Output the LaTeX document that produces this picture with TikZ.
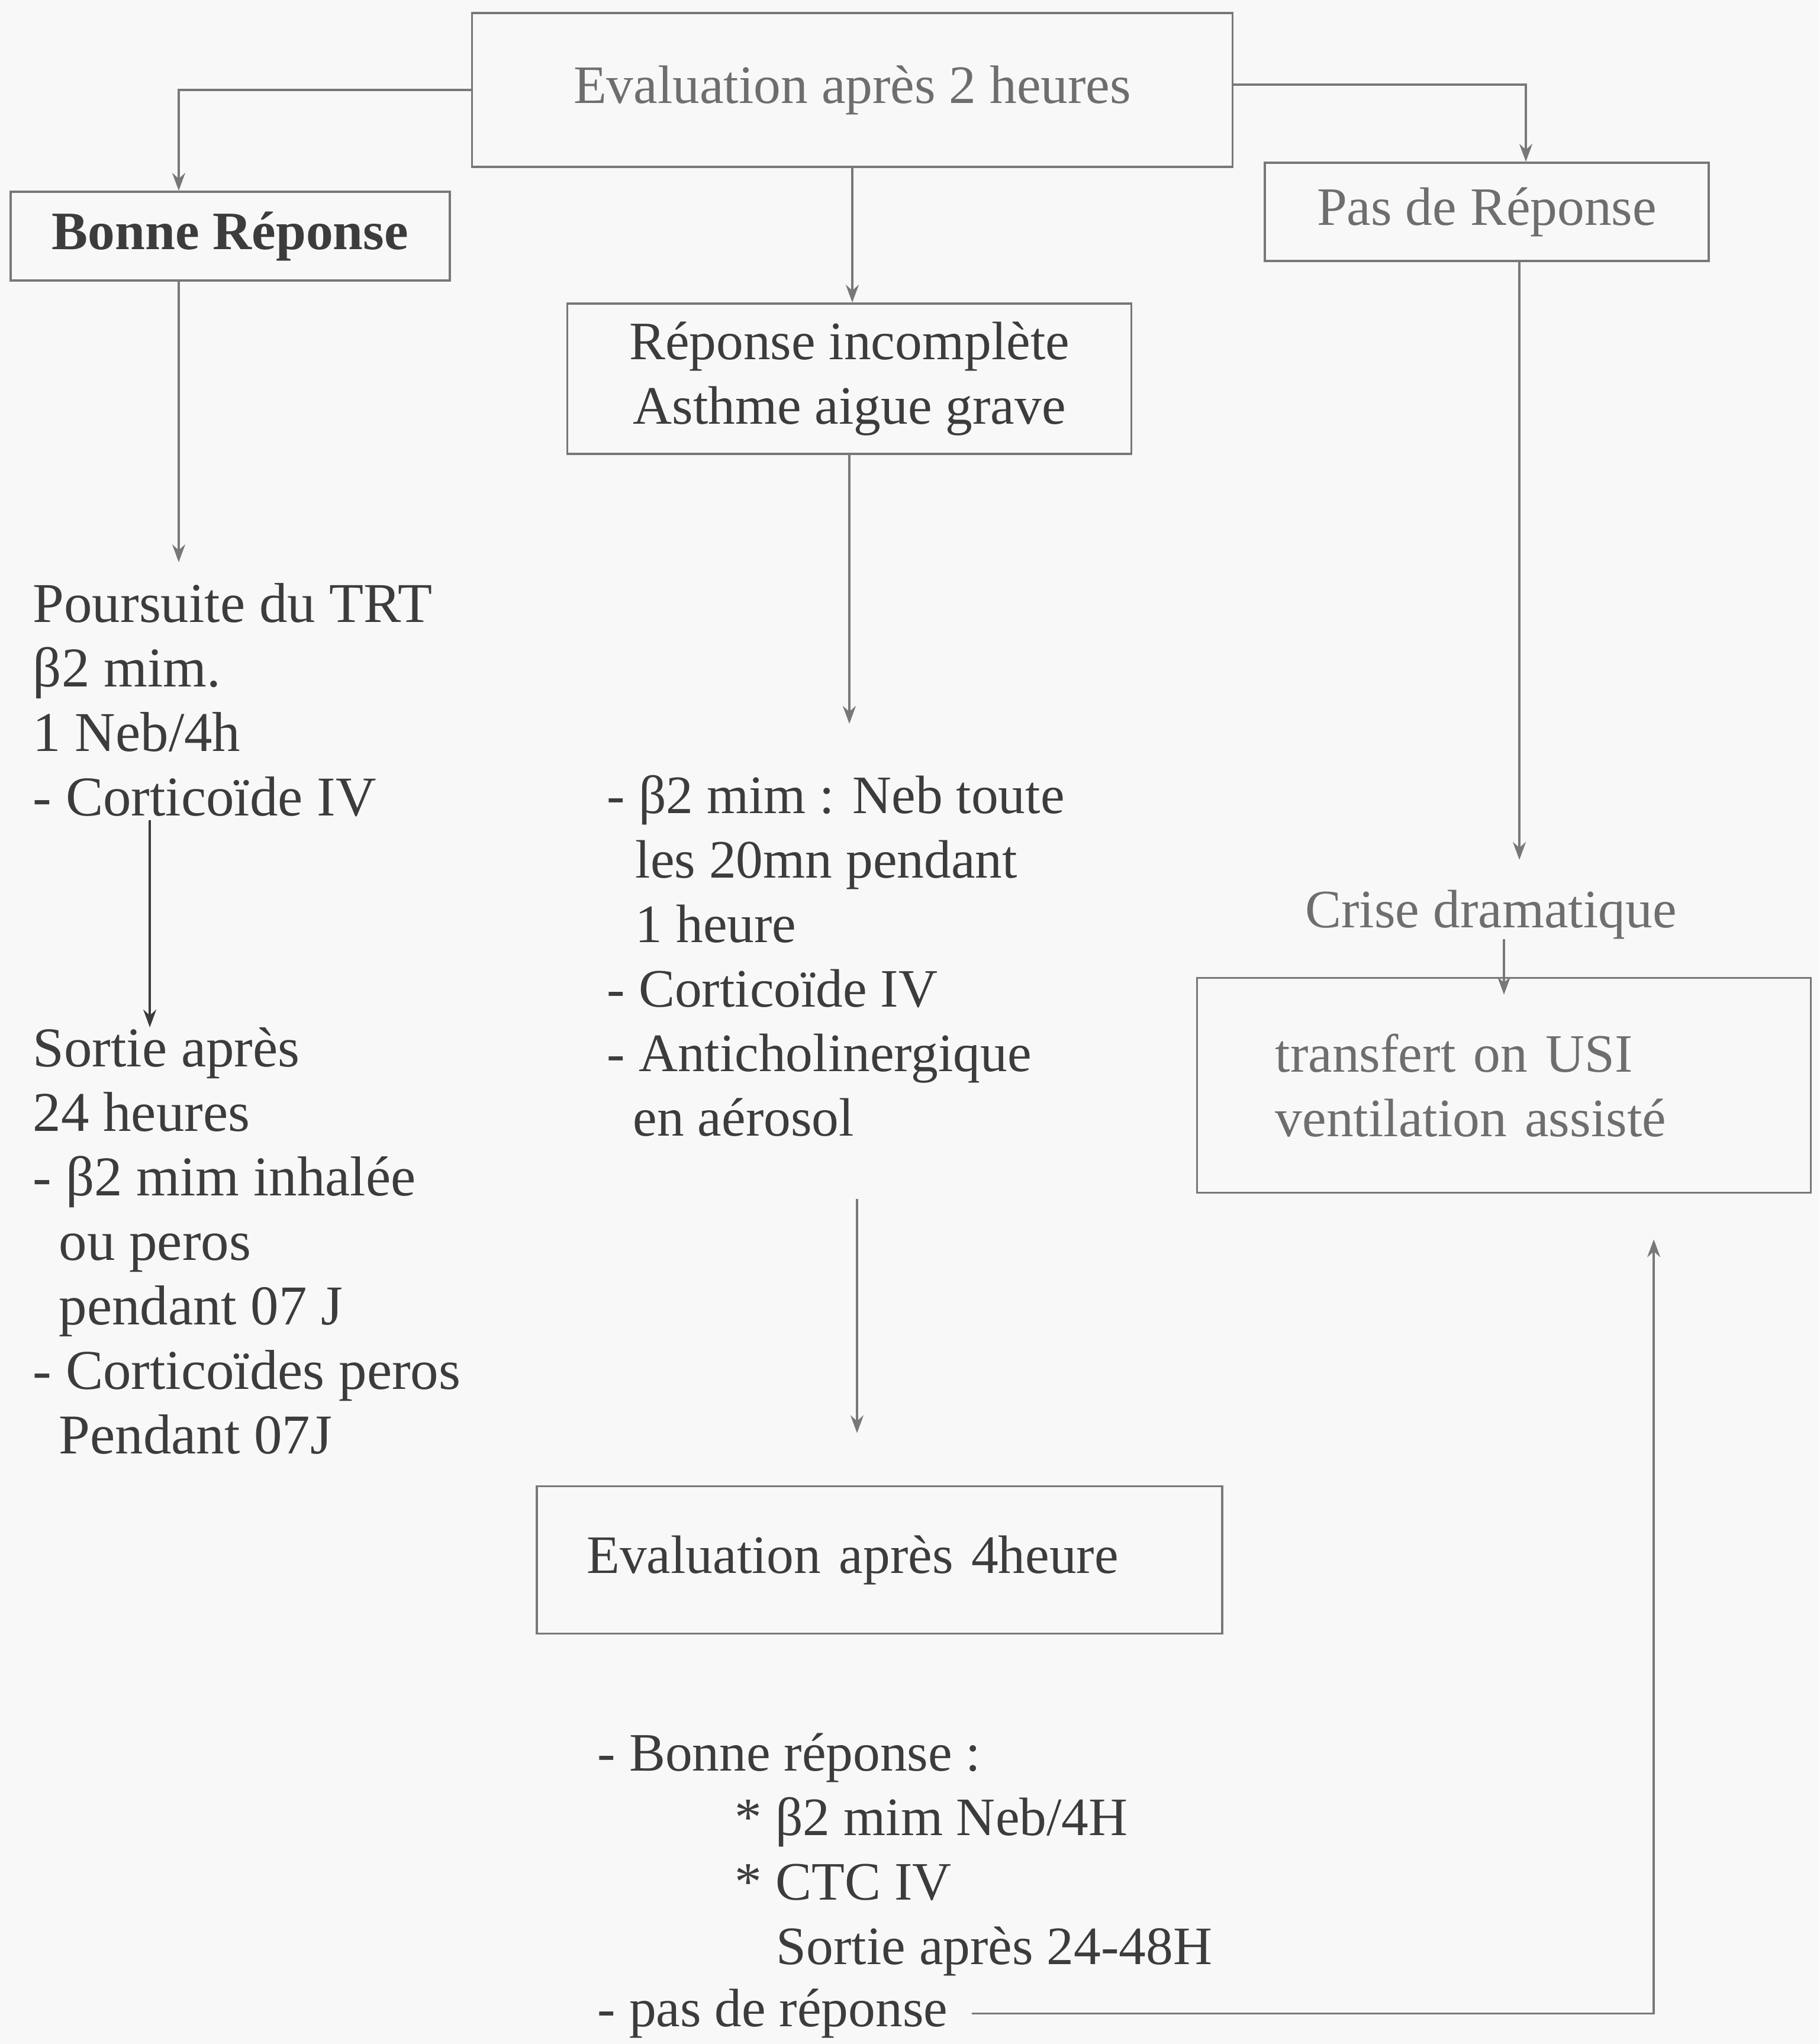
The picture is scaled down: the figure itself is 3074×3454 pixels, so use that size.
\documentclass[tikz,border=0pt]{standalone}
\usepackage{fontspec}
\setmainfont{Liberation Serif}
\usetikzlibrary{arrows.meta,calc}
\definecolor{bg}{RGB}{248,248,248}
\definecolor{linegray}{RGB}{120,120,120}
\definecolor{txt}{RGB}{60,60,60}
\definecolor{txtlight}{RGB}{110,110,110}
\begin{document}
\begin{tikzpicture}[x=0.01cm,y=-0.01cm,
  every node/.style={font=\fontsize{26}{31}\selectfont},
  box/.style={draw=linegray, line width=1pt, inner sep=0pt, text=txt},
  txtblock/.style={align=left, inner sep=0pt, text=txt, anchor=north west},
  arr/.style={draw=linegray, line width=1pt, -{Stealth[length=0.3cm,width=0.22cm]}},
  conn/.style={draw=linegray, line width=1pt}
]
\fill[bg] (0,0) rectangle (3074,3454);
\useasboundingbox (0,0) rectangle (3074,3454);

% boxes
\node[box, text=txtlight, minimum width=12.84cm, minimum height=2.60cm] (top) at (1440,152) {Evaluation après 2 heures};
\node[box, font=\fontsize{26}{31}\selectfont\bfseries, minimum width=7.42cm, minimum height=1.50cm] (bonne) at (389,399) {Bonne Réponse};
\node[box, text=txtlight, minimum width=7.50cm, minimum height=1.66cm] (pas) at (2512,358) {Pas de Réponse};
\node[box, align=center, minimum width=9.52cm, minimum height=2.54cm] (incomp) at (1435,640) {Réponse incomplète\\Asthme aigue grave};
\node[box, align=left, inner xsep=0.84cm, text width=9.89cm, minimum height=2.49cm] (eval4) at (1486,2636) {Evaluation après 4heure};
\node[box, text=txtlight, align=left, inner xsep=1.32cm, text width=7.72cm, minimum height=3.63cm] (usi) at (2541,1834) {transfert on USI\\ventilation assisté};

% text blocks
\node[txtblock, font=\fontsize{27}{31}\selectfont] (L1) at (55,985) {Poursuite du TRT\\β2 mim.\\1 Neb/4h\\- Corticoïde IV};
\node[txtblock, font=\fontsize{27}{31}\selectfont] (L2) at (55,1736) {Sortie après\\24 heures\\- β2 mim inhalée\\\hspace*{0.44cm}ou peros\\\hspace*{0.44cm}pendant 07 J\\- Corticoïdes peros\\\hspace*{0.44cm}Pendant 07J};
\node[txtblock] (M1) at (1025,1309) {- β2 mim : Neb toute\\\hspace*{0.48cm}les 20mn pendant\\\hspace*{0.48cm}1 heure\\- Corticoïde IV\\- Anticholinergique\\\hspace*{0.44cm}en aérosol};
\node[txtblock] (M2) at (1009,2928) {- Bonne réponse :\\\hspace*{2.32cm}* β2 mim Neb/4H\\\hspace*{2.32cm}* CTC IV\\\hspace*{3.02cm}Sortie après 24-48H};
\node[txtblock] (pdr) at (1009,3360) {- pas de réponse};
\node[text=txtlight, inner sep=0pt] (crise) at (2519,1545) {Crise dramatique};

% connectors
\draw[arr] (top.west) -| ([xshift=-0.87cm]bonne.north);
\draw[arr] ([yshift=0.09cm]top.east) -| ([xshift=0.66cm]pas.north);
\draw[arr] (top.south) -- (top.south |- incomp.north);
\draw[arr, shorten >=0.35cm] ([xshift=-0.87cm]bonne.south) -- ([xshift=-0.87cm]bonne.south |- L1.north);
\draw[arr, draw=txt] ([xshift=1.98cm,yshift=-0.05cm]L1.south west) -- ([xshift=1.98cm]L2.north west);
\draw[arr, shorten >=0.86cm] (incomp.south) -- (incomp.south |- M1.north);
\draw[arr, shorten <=1.05cm, shorten >=0.88cm] ([xshift=-0.38cm]M1.south -| eval4.north) -- ([xshift=-0.38cm]eval4.north);
\draw[arr, shorten >=0.5cm] ([xshift=0.55cm]pas.south) -- ([xshift=0.55cm]pas.south |- crise.north);
\draw[arr, shorten >=-0.3cm] (crise.south -| usi.north) -- (usi.north);
\draw[arr, shorten <=0.4cm, shorten >=0.77cm] (pdr.east) -| ([xshift=2.53cm]usi.south);
\end{tikzpicture}
\end{document}
